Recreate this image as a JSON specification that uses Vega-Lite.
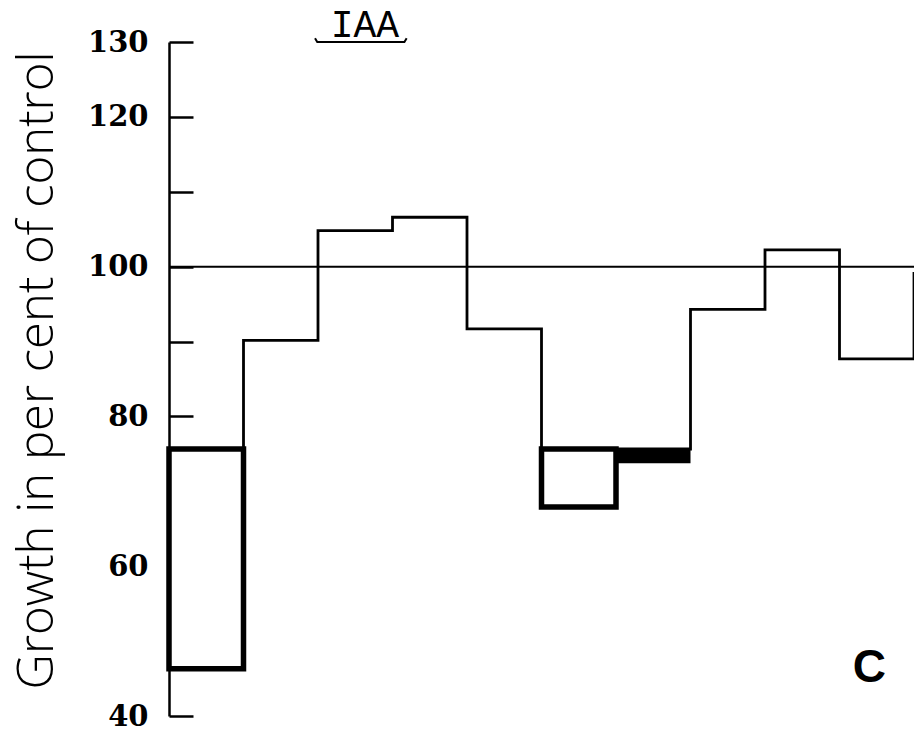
{
  "$schema": "https://vega.github.io/schema/vega-lite/v6.json",
  "width": 745,
  "height": 674,
  "autosize": "none",
  "padding": {"left": 169, "top": 42, "right": 0, "bottom": 17},
  "background": "white",
  "config": {"view": {"stroke": null}},
  "datasets": {
    "steps": [
      {"bin": 0, "growth": 75.65},
      {"bin": 1, "growth": 90.15},
      {"bin": 2, "growth": 104.8},
      {"bin": 3, "growth": 106.6},
      {"bin": 4, "growth": 91.7},
      {"bin": 5, "growth": 75.65},
      {"bin": 6, "growth": 75.65},
      {"bin": 7, "growth": 94.3},
      {"bin": 8, "growth": 102.25},
      {"bin": 9, "growth": 87.7},
      {"bin": 10, "growth": 87.7}
    ],
    "boxes": [
      {"start": 0, "end": 1, "low": 46.3, "high": 75.65},
      {"start": 5, "end": 6, "low": 67.9, "high": 75.65}
    ],
    "solid": [
      {"start": 6, "end": 7, "low": 73.75, "high": 75.65}
    ],
    "control": [{"start": 0, "end": 10, "value": 100}],
    "edge": [{"bin": 10, "low": 87.7, "high": 99.3}],
    "bracket": [
      {"x": 1.96, "y": 130.5, "o": 0},
      {"x": 1.99, "y": 130.0, "o": 1},
      {"x": 3.16, "y": 130.0, "o": 2},
      {"x": 3.19, "y": 130.5, "o": 3}
    ],
    "labels": [
      {"x": 2.63, "y": 130.66, "text": "IAA", "kind": "iaa"},
      {"x": 9.4, "y": 44.5, "text": "C", "kind": "panel"}
    ]
  },
  "layer": [
    {
      "data": {"name": "control"},
      "mark": {"type": "rule", "color": "black", "strokeWidth": 2},
      "encoding": {
        "x": {"field": "start", "type": "quantitative", "scale": {"domain": [0, 10], "nice": false, "zero": false}, "axis": null},
        "x2": {"field": "end"},
        "y": {
          "field": "value", "type": "quantitative",
          "scale": {"domain": [40, 130], "nice": false, "zero": false},
          "axis": {
            "title": "Growth in per cent of control",
            "titleFont": "Open Sans",
            "titleFontWeight": 300,
            "titleFontSize": 49,
            "titleColor": "black",
            "titleAngle": -90,
            "titleX": -117,
            "titleY": 328,
            "titleAlign": "center",
            "titleBaseline": "alphabetic",
            "values": [40, 50, 60, 70, 80, 90, 100, 110, 120, 130],
            "labelExpr": "indexof([40, 60, 80, 100, 120, 130], datum.value) >= 0 ? datum.label : ''",
            "labelFont": "DejaVu Serif",
            "labelFontWeight": "bold",
            "labelFontSize": 29,
            "labelColor": "black",
            "labelPadding": 45,
            "labelFlush": false,
            "labelOverlap": false,
            "tickSize": -24,
            "tickWidth": 2.5,
            "tickColor": "black",
            "domainColor": "black",
            "domainWidth": 2.5,
            "grid": false
          }
        }
      }
    },
    {
      "data": {"name": "boxes"},
      "mark": {"type": "rect", "fill": "white", "stroke": "black", "strokeWidth": 5.5},
      "encoding": {
        "x": {"field": "start", "type": "quantitative"},
        "x2": {"field": "end"},
        "y": {"field": "low", "type": "quantitative"},
        "y2": {"field": "high"}
      }
    },
    {
      "data": {"name": "solid"},
      "mark": {"type": "rect", "fill": "black"},
      "encoding": {
        "x": {"field": "start", "type": "quantitative"},
        "x2": {"field": "end"},
        "y": {"field": "low", "type": "quantitative"},
        "y2": {"field": "high"}
      }
    },
    {
      "data": {"name": "steps"},
      "mark": {"type": "line", "interpolate": "step-after", "color": "black", "strokeWidth": 2.8},
      "encoding": {
        "x": {"field": "bin", "type": "quantitative"},
        "y": {"field": "growth", "type": "quantitative"}
      }
    },
    {
      "data": {"name": "edge"},
      "mark": {"type": "rule", "color": "black", "strokeWidth": 2.8},
      "encoding": {
        "x": {"field": "bin", "type": "quantitative"},
        "y": {"field": "low", "type": "quantitative"},
        "y2": {"field": "high"}
      }
    },
    {
      "data": {"name": "bracket"},
      "mark": {"type": "line", "color": "black", "strokeWidth": 2, "clip": false},
      "encoding": {
        "x": {"field": "x", "type": "quantitative"},
        "y": {"field": "y", "type": "quantitative"},
        "order": {"field": "o"}
      }
    },
    {
      "data": {"name": "labels"},
      "transform": [{"filter": "datum.kind == 'iaa'"}],
      "mark": {"type": "text", "font": "Liberation Mono", "fontSize": 38, "color": "black", "align": "center", "baseline": "alphabetic", "clip": false},
      "encoding": {
        "x": {"field": "x", "type": "quantitative"},
        "y": {"field": "y", "type": "quantitative"},
        "text": {"field": "text"}
      }
    },
    {
      "data": {"name": "labels"},
      "transform": [{"filter": "datum.kind == 'panel'"}],
      "mark": {"type": "text", "font": "Liberation Sans", "fontWeight": "bold", "fontSize": 46, "color": "black", "align": "center", "baseline": "alphabetic"},
      "encoding": {
        "x": {"field": "x", "type": "quantitative"},
        "y": {"field": "y", "type": "quantitative"},
        "text": {"field": "text"}
      }
    }
  ]
}
